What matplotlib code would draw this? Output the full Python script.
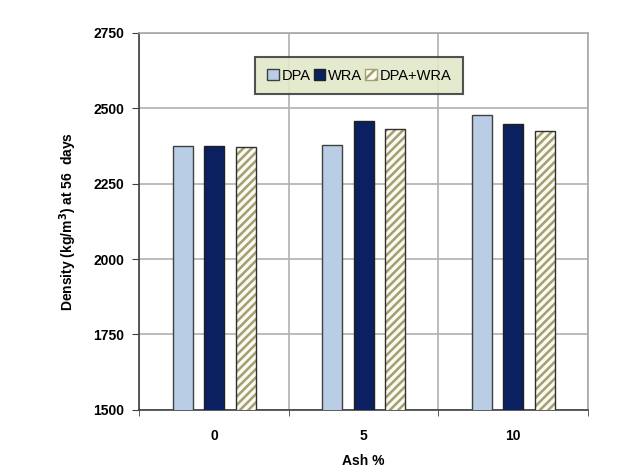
import numpy as np
import matplotlib.pyplot as plt
from matplotlib.patches import Patch

# data
ash = ["0", "5", "10"]
dpa = [2376, 2377, 2477]
wra = [2376, 2458, 2449]
dpa_wra = [2372, 2430, 2426]

plt.rcParams['font.family'] = ['Liberation Sans', 'DejaVu Sans']
plt.rcParams['font.weight'] = 'bold'
plt.rcParams['hatch.linewidth'] = 1.8

fig = plt.figure(figsize=(6.17, 4.70), dpi=100)
ax = fig.add_axes([0.226, 0.128, 0.727, 0.802])

x = np.arange(len(ash))
w = 0.135
step = 0.21
hatch_col = '#a39f70'
ax.bar(x - step, dpa, w, color='#b9cde5', edgecolor='#404040', linewidth=1.0, zorder=3)
ax.bar(x, wra, w, color='#0b2060', edgecolor='#202020', linewidth=1.0, zorder=3)
# hatch takes the edge colour, so fill + hatch first, outline after
ax.bar(x + step, dpa_wra, w, color='#fbfbf4', edgecolor=hatch_col, linewidth=0,
       hatch='////', zorder=3)
ax.bar(x + step, dpa_wra, w, fill=False, edgecolor='#303030', linewidth=1.0, zorder=4)

ax.set_ylim(1500, 2750)
ax.set_xlim(-0.5, 2.5)
ax.set_yticks([1500, 1750, 2000, 2250, 2500, 2750])
ax.set_xticks(x)
ax.set_xticklabels(ash)
ax.set_xticks([-0.5, 0.5, 1.5, 2.5], minor=True)
ax.tick_params(axis='x', which='major', length=0, pad=14, labelsize=10)
ax.tick_params(axis='x', which='minor', length=4, direction='out', color='#404040')
ax.tick_params(axis='y', length=5, direction='out', color='#404040', labelsize=10, pad=6)
ax.grid(True, which='major', axis='y', color='#b0b0b0', linewidth=1.2, zorder=0)
ax.grid(True, which='minor', axis='x', color='#b0b0b0', linewidth=1.2, zorder=0)

for s in ['top', 'right']:
    ax.spines[s].set_color('#a8a8a8')
    ax.spines[s].set_linewidth(1.2)
for s in ['left', 'bottom']:
    ax.spines[s].set_color('#404040')
    ax.spines[s].set_linewidth(1.2)

ax.set_xlabel('Ash %', fontsize=10, fontweight='bold', labelpad=8)
ax.set_ylabel('Density (kg/m$^\\mathbf{3}$) at 56  days', fontsize=10, fontweight='bold', labelpad=10)

handles = [
    Patch(facecolor='#b9cde5', edgecolor='#404040', linewidth=1.0),
    Patch(facecolor='#0b2060', edgecolor='#202020', linewidth=1.0),
    Patch(facecolor='#fbfbf4', edgecolor=hatch_col, linewidth=1.0, hatch='///'),
]
leg = ax.legend(handles, ['DPA', 'WRA', 'DPA+WRA'], loc='upper center',
                bbox_to_anchor=(0.49, 0.955), ncol=3, frameon=True,
                fancybox=False, fontsize=10.5, handlelength=0.8, handleheight=0.8,
                handletextpad=0.2, columnspacing=0.2, borderpad=0.8)
leg.get_frame().set_facecolor('#e2e8c8')
leg.get_frame().set_edgecolor('#404040')
leg.get_frame().set_linewidth(1.5)
leg.get_frame().set_alpha(0.9)
for t in leg.get_texts():
    t.set_fontweight('normal')

fig.savefig('out.png', dpi=100)
